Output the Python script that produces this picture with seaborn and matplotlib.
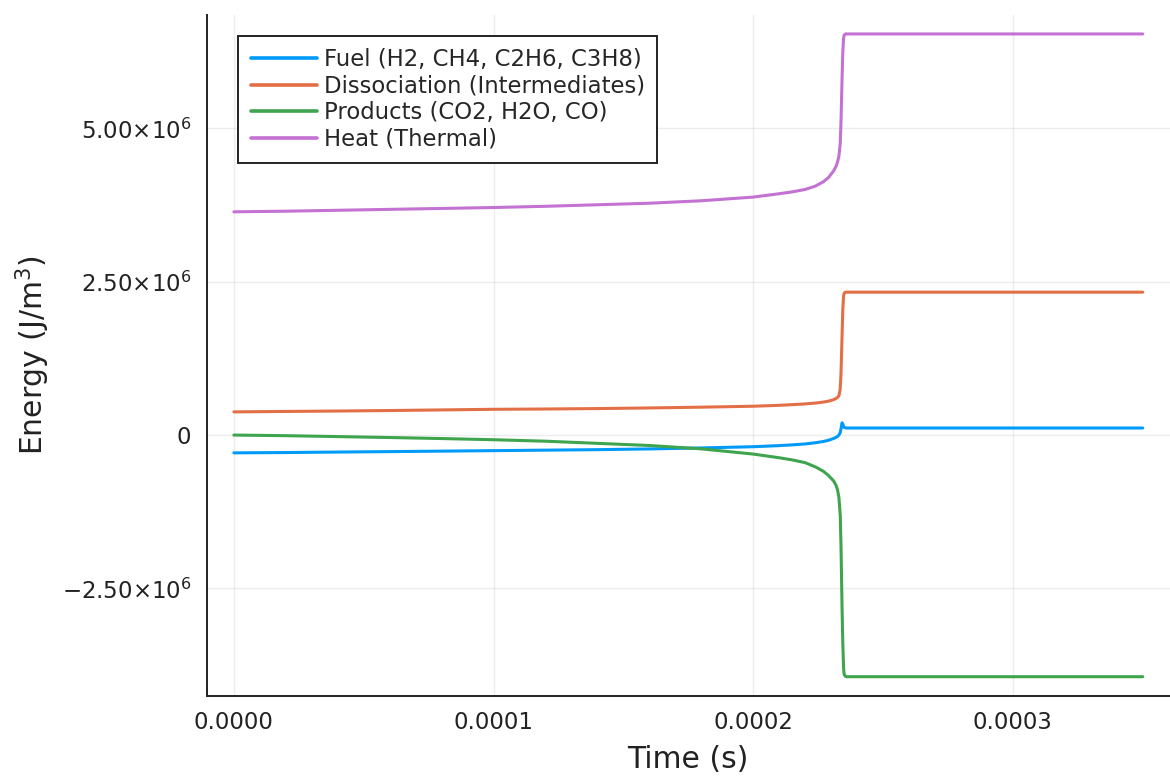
import numpy as np
import pandas as pd
import matplotlib
matplotlib.use('Agg')
import matplotlib.pyplot as plt
import seaborn as sns

# time points (s), denser around the ignition jump
time_s = [0.0, 0.2e-4, 0.4e-4, 0.6e-4, 0.8e-4, 1.0e-4, 1.2e-4, 1.4e-4, 1.6e-4, 1.8e-4,
          2.0e-4, 2.1e-4, 2.15e-4, 2.2e-4, 2.24e-4, 2.27e-4, 2.29e-4, 2.31e-4, 2.32e-4,
          2.325e-4, 2.33e-4, 2.335e-4, 2.338e-4, 2.342e-4, 2.345e-4, 2.348e-4, 2.35e-4,
          2.355e-4, 2.36e-4, 2.4e-4, 2.6e-4, 3.0e-4, 3.5e-4]

# energies in units of 1e6 J/m^3
fuel_e6 = [-0.29, -0.285, -0.277, -0.27, -0.262, -0.254, -0.246, -0.238, -0.226, -0.21,
           -0.19, -0.172, -0.16, -0.145, -0.125, -0.105, -0.085, -0.055, -0.035,
           -0.02, 0.0, 0.04, 0.1, 0.2, 0.18, 0.14, 0.125,
           0.118, 0.115, 0.115, 0.115, 0.115, 0.115]
dissociation_e6 = [0.378, 0.385, 0.392, 0.40, 0.41, 0.42, 0.425, 0.432, 0.442, 0.455,
                   0.47, 0.485, 0.496, 0.508, 0.522, 0.538, 0.553, 0.578, 0.60,
                   0.615, 0.64, 0.75, 1.0, 1.6, 2.05, 2.27, 2.31,
                   2.33, 2.33, 2.33, 2.33, 2.33, 2.33]
products_e6 = [0.0, -0.01, -0.025, -0.04, -0.057, -0.076, -0.10, -0.135, -0.17, -0.225,
               -0.31, -0.37, -0.405, -0.45, -0.52, -0.59, -0.66, -0.75, -0.83,
               -0.9, -1.02, -1.3, -1.8, -2.8, -3.4, -3.8, -3.9,
               -3.935, -3.94, -3.94, -3.94, -3.94, -3.94]
heat_e6 = [3.64, 3.65, 3.665, 3.68, 3.695, 3.71, 3.73, 3.755, 3.78, 3.82,
           3.88, 3.935, 3.965, 4.005, 4.06, 4.13, 4.20, 4.31, 4.39,
           4.46, 4.55, 4.75, 5.1, 5.8, 6.25, 6.47, 6.52,
           6.54, 6.54, 6.54, 6.54, 6.54, 6.54]

labels = ['Fuel (H2, CH4, C2H6, C3H8)', 'Dissociation (Intermediates)',
          'Products (CO2, H2O, CO)', 'Heat (Thermal)']
colors = ['#009AFA', '#E36F47', '#3EA44E', '#C371D2']

xticks = [0.0, 0.0001, 0.0002, 0.0003]
xticklabels = ['0.0000', '0.0001', '0.0002', '0.0003']
yticks = [-2.5e6, 0.0, 2.5e6, 5.0e6]
yticklabels = [r'$-2.50{\times}10^{6}$', '0', r'$2.50{\times}10^{6}$', r'$5.00{\times}10^{6}$']

frames = []
for lab, vals in zip(labels, [fuel_e6, dissociation_e6, products_e6, heat_e6]):
    frames.append(pd.DataFrame({'time': time_s,
                                'energy': np.array(vals) * 1e6,
                                'series': lab}))
df = pd.concat(frames, ignore_index=True)

sns.set_theme(style='white')
plt.rcParams['font.family'] = ['DejaVu Sans']
plt.rcParams['mathtext.default'] = 'regular'

fig = plt.figure(figsize=(11.7, 7.76), dpi=100)
ax = fig.add_axes([0.1766, 0.1031, 0.8234, 0.878])

sns.lineplot(data=df, x='time', y='energy', hue='series', hue_order=labels,
             palette=colors, linewidth=2.2, ax=ax, estimator=None, sort=True)

# Plots.jl style limits: data range plus 3 % margin
tmin, tmax = min(time_s), max(time_s)
allv = df['energy']
vmin, vmax = allv.min(), allv.max()
ax.set_xlim(tmin - 0.03 * (tmax - tmin), tmax + 0.03 * (tmax - tmin))
ax.set_ylim(vmin - 0.03 * (vmax - vmin), vmax + 0.03 * (vmax - vmin))

ax.set_xticks(xticks)
ax.set_xticklabels(xticklabels)
ax.set_yticks(yticks)
ax.set_yticklabels(yticklabels)
ax.tick_params(direction='in', length=6, width=1.2, labelsize=16.5, pad=11,
               colors='#222222')

ax.grid(True, color='black', alpha=0.07, linewidth=1.0)
for side in ['top', 'right']:
    ax.spines[side].set_visible(False)
for side in ['left', 'bottom']:
    ax.spines[side].set_color('#222222')
    ax.spines[side].set_linewidth(1.4)

ax.set_xlabel('Time (s)', fontsize=21.5, color='#222222', labelpad=8)
ax.set_ylabel(r'Energy (J/m$^3$)', fontsize=21.5, color='#222222', labelpad=7)

leg = ax.legend(loc='upper left', bbox_to_anchor=(0.033, 0.969), borderaxespad=0,
                fontsize=16.4, frameon=True, fancybox=False, framealpha=1,
                handlelength=2.9, handletextpad=0.3, labelspacing=0.15,
                borderpad=0.55, title=None)
leg.get_frame().set_edgecolor('#222222')
leg.get_frame().set_linewidth(1.4)
for line in leg.get_lines():
    line.set_linewidth(2.6)

fig.savefig('out.png', dpi=100)
